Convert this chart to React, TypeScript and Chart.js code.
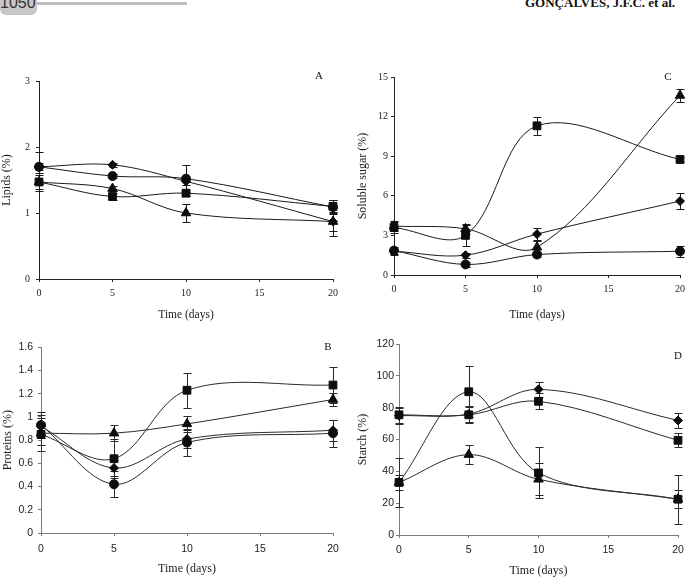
import { useEffect, useRef } from 'react';
import { Chart, registerables } from 'chart.js';

Chart.register(...registerables);

// Sampling days shared by every panel
const days = [0, 5, 10, 20];

// A – Lipids (%)
const lipidsCircle = [1.7, 1.56, 1.52, 1.09];
const lipidsCircleErr = [0.22, 0.03, 0.2, 0.1];
const lipidsSquare = [1.47, 1.25, 1.3, 1.1];
const lipidsSquareErr = [0.13, 0.05, 0.05, 0.1];
const lipidsTriangle = [1.47, 1.37, 1.0, 0.87];
const lipidsTriangleErr = [0.1, 0.04, 0.13, 0.22];
const lipidsDiamond = [1.7, 1.73, 1.48, 0.87];
const lipidsDiamondErr = [0.05, 0.03, 0.05, 0.15];

// C – Soluble sugar (%)
const sugarSquare = [3.6, 3.0, 11.3, 8.75];
const sugarSquareErr = [0.45, 0.8, 0.7, 0.2];
const sugarTriangle = [3.7, 3.5, 2.1, 13.6];
const sugarTriangleErr = [0.4, 0.4, 0.45, 0.5];
const sugarCircle = [1.85, 0.8, 1.55, 1.8];
const sugarCircleErr = [0.3, 0.2, 0.2, 0.4];
const sugarDiamond = [1.8, 1.5, 3.1, 5.6];
const sugarDiamondErr = [0.2, 0.2, 0.45, 0.6];

// B – Proteins (%)
const proteinCircle = [0.93, 0.42, 0.78, 0.86];
const proteinCircleErr = [0.11, 0.11, 0.12, 0.115];
const proteinSquare = [0.85, 0.64, 1.23, 1.275];
const proteinSquareErr = [0.14, 0.17, 0.15, 0.155];
const proteinDiamond = [0.92, 0.56, 0.81, 0.885];
const proteinDiamondErr = [0.1, 0.07, 0.08, 0.09];
const proteinTriangle = [0.86, 0.86, 0.94, 1.15];
const proteinTriangleErr = [0.1, 0.07, 0.07, 0.06];

// D – Starch (%)
const starchSquareHigh = [75.5, 75.5, 84, 59.5];
const starchSquareHighErr = [5, 5, 5, 4.5];
const starchSquareLow = [33, 90, 39, 22.5];
const starchSquareLowErr = [15.5, 16, 16, 15.5];
const starchDiamond = [75, 76, 91.5, 72];
const starchDiamondErr = [5, 5, 4.5, 4.5];
const starchTriangle = [33, 50.5, 35, 22.5];
const starchTriangleErr = [5, 6, 10, 5.5];

const SERIF = '"Liberation Serif", "Times New Roman", serif';
const SANS = '"Liberation Sans", Arial, sans-serif';

type Marker = 'circle' | 'rect' | 'triangle' | 'rectRot';
const markerRadius: Record<Marker, number> = { circle: 4.5, rect: 5.5, triangle: 5.5, rectRot: 4.5 };

type Series = { values: number[]; errors: number[]; marker: Marker };

type PanelSpec = {
  letter: string;
  letterOffset: [number, number];
  box: { left: number; top: number; width: number; height: number };
  padding: { left: number; right: number; top: number };
  yAxisWidth: number;
  xAxisHeight: number;
  yMax: number;
  yStep: number;
  yTitle: string;
  tickFont: string;
  tickSize: number;
  titleSize: number;
  xTickPad: number;
  yTickPad: number;
  ink: string;
  axisInk: string;
  series: Series[];
};

const panels: PanelSpec[] = [
  {
    letter: 'A',
    letterOffset: [-14, -5],
    box: { left: 0, top: 69, width: 348, height: 253 },
    padding: { left: 0, right: 15, top: 10 },
    yAxisWidth: 39,
    xAxisHeight: 43,
    yMax: 3,
    yStep: 1,
    yTitle: 'Lipids (%)',
    tickFont: SERIF,
    tickSize: 10,
    titleSize: 11.5,
    xTickPad: 5,
    yTickPad: 6,
    ink: '#1a1a1a',
    axisInk: '#222',
    series: [
      { values: lipidsCircle, errors: lipidsCircleErr, marker: 'circle' },
      { values: lipidsSquare, errors: lipidsSquareErr, marker: 'rect' },
      { values: lipidsTriangle, errors: lipidsTriangleErr, marker: 'triangle' },
      { values: lipidsDiamond, errors: lipidsDiamondErr, marker: 'rectRot' },
    ],
  },
  {
    letter: 'C',
    letterOffset: [-12, 0],
    box: { left: 345, top: 67, width: 345, height: 255 },
    padding: { left: 11, right: 8, top: 10 },
    yAxisWidth: 38,
    xAxisHeight: 47,
    yMax: 15,
    yStep: 3,
    yTitle: 'Soluble sugar (%)',
    tickFont: SERIF,
    tickSize: 10,
    titleSize: 11.5,
    xTickPad: 5,
    yTickPad: 3,
    ink: '#1a1a1a',
    axisInk: '#222',
    series: [
      { values: sugarSquare, errors: sugarSquareErr, marker: 'rect' },
      { values: sugarTriangle, errors: sugarTriangleErr, marker: 'triangle' },
      { values: sugarCircle, errors: sugarCircleErr, marker: 'circle' },
      { values: sugarDiamond, errors: sugarDiamondErr, marker: 'rectRot' },
    ],
  },
  {
    letter: 'B',
    letterOffset: [-5, 0],
    box: { left: 0, top: 336, width: 348, height: 240 },
    padding: { left: 1, right: 15, top: 10 },
    yAxisWidth: 40,
    xAxisHeight: 43,
    yMax: 1.6,
    yStep: 0.2,
    yTitle: 'Proteins (%)',
    tickFont: SANS,
    tickSize: 10.5,
    titleSize: 12,
    xTickPad: 7,
    yTickPad: 5,
    ink: '#2a2a2a',
    axisInk: '#7a7a7a',
    series: [
      { values: proteinCircle, errors: proteinCircleErr, marker: 'circle' },
      { values: proteinSquare, errors: proteinSquareErr, marker: 'rect' },
      { values: proteinDiamond, errors: proteinDiamondErr, marker: 'rectRot' },
      { values: proteinTriangle, errors: proteinTriangleErr, marker: 'triangle' },
    ],
  },
  {
    letter: 'D',
    letterOffset: [0, 12],
    box: { left: 345, top: 334, width: 345, height: 244 },
    padding: { left: 11, right: 12, top: 10 },
    yAxisWidth: 43,
    xAxisHeight: 43,
    yMax: 120,
    yStep: 20,
    yTitle: 'Starch (%)',
    tickFont: SANS,
    tickSize: 10.5,
    titleSize: 12,
    xTickPad: 6,
    yTickPad: 2,
    ink: '#2a2a2a',
    axisInk: '#7a7a7a',
    series: [
      { values: starchSquareHigh, errors: starchSquareHighErr, marker: 'rect' },
      { values: starchSquareLow, errors: starchSquareLowErr, marker: 'rect' },
      { values: starchDiamond, errors: starchDiamondErr, marker: 'rectRot' },
      { values: starchTriangle, errors: starchTriangleErr, marker: 'triangle' },
    ],
  },
];

// Vertical error bars with short caps, drawn beneath the markers
const errorBarPlugin = {
  id: 'errorBars',
  beforeDatasetsDraw(chart: any) {
    const { ctx } = chart;
    const xs = chart.scales.x;
    const ys = chart.scales.y;
    const cap = 4;
    chart.data.datasets.forEach((ds: any) => {
      if (!ds.errors) return;
      ctx.save();
      ctx.strokeStyle = ds.borderColor;
      ctx.lineWidth = 1;
      ds.data.forEach((p: { x: number; y: number }, i: number) => {
        const e = ds.errors[i];
        if (!e) return;
        const px = Math.round(xs.getPixelForValue(p.x)) + 0.5;
        const top = Math.round(ys.getPixelForValue(p.y + e)) + 0.5;
        const bot = Math.round(ys.getPixelForValue(p.y - e)) + 0.5;
        ctx.beginPath();
        ctx.moveTo(px, top);
        ctx.lineTo(px, bot);
        ctx.moveTo(px - cap, top);
        ctx.lineTo(px + cap, top);
        ctx.moveTo(px - cap, bot);
        ctx.lineTo(px + cap, bot);
        ctx.stroke();
      });
      ctx.restore();
    });
  },
};

// Panel letter in the upper right corner of the plot area
const panelLetterPlugin = {
  id: 'panelLetter',
  afterDraw(chart: any, _args: any, opts: any) {
    const { ctx, chartArea } = chart;
    ctx.save();
    ctx.font = `11px ${SERIF}`;
    ctx.fillStyle = '#111';
    ctx.textAlign = 'center';
    ctx.textBaseline = 'middle';
    ctx.fillText(opts.text, chartArea.right + opts.dx, chartArea.top + opts.dy);
    ctx.restore();
  },
};

// Plain number labels: 1 rather than 1.0, 0.2 rather than 0.20
const plainNumber = (v: number | string) => String(Number(Number(v).toFixed(2)));

function buildConfig(p: PanelSpec): any {
  const datasets = p.series.map((s) => ({
    data: days.map((d, i) => ({ x: d, y: s.values[i] })),
    errors: s.errors,
    borderColor: p.ink,
    borderWidth: 1,
    backgroundColor: '#0d0d0d',
    pointBackgroundColor: '#0d0d0d',
    pointBorderColor: '#0d0d0d',
    pointBorderWidth: 1,
    pointStyle: s.marker,
    pointRadius: markerRadius[s.marker],
    tension: 0.35,
    fill: false,
    clip: false,
  }));

  return {
    type: 'line',
    data: { datasets },
    plugins: [errorBarPlugin, panelLetterPlugin],
    options: {
      responsive: false,
      animation: false,
      events: [],
      devicePixelRatio: 1,
      layout: { padding: { left: p.padding.left, right: p.padding.right, top: p.padding.top, bottom: 0 } },
      plugins: {
        legend: { display: false },
        tooltip: { enabled: false },
        panelLetter: { text: p.letter, dx: p.letterOffset[0], dy: p.letterOffset[1] },
      },
      scales: {
        x: {
          type: 'linear',
          min: 0,
          max: 20,
          ticks: {
            stepSize: 5,
            padding: p.xTickPad,
            color: '#222',
            font: { family: p.tickFont, size: p.tickSize },
            callback: plainNumber,
          },
          grid: {
            display: true,
            drawOnChartArea: false,
            drawTicks: true,
            tickLength: 3,
            color: p.axisInk,
          },
          border: { display: true, color: p.axisInk, width: 1 },
          title: {
            display: true,
            text: 'Time (days)',
            color: '#222',
            padding: 0,
            font: { family: SERIF, size: p.titleSize },
          },
          afterFit: (scale: any) => {
            scale.height = p.xAxisHeight;
          },
        },
        y: {
          type: 'linear',
          min: 0,
          max: p.yMax,
          ticks: {
            stepSize: p.yStep,
            padding: p.yTickPad,
            color: '#222',
            font: { family: p.tickFont, size: p.tickSize },
            callback: plainNumber,
          },
          grid: {
            display: true,
            drawOnChartArea: false,
            drawTicks: true,
            tickLength: 3,
            color: p.axisInk,
          },
          border: { display: true, color: p.axisInk, width: 1 },
          title: {
            display: true,
            text: p.yTitle,
            color: '#222',
            padding: 0,
            font: { family: SERIF, size: 12 },
          },
          afterFit: (scale: any) => {
            scale.width = p.yAxisWidth;
          },
        },
      },
    },
  };
}

function Panel({ spec }: { spec: PanelSpec }) {
  const ref = useRef<HTMLCanvasElement>(null);
  useEffect(() => {
    const chart = new Chart(ref.current as HTMLCanvasElement, buildConfig(spec));
    return () => chart.destroy();
  }, [spec]);
  return (
    <canvas
      ref={ref}
      width={spec.box.width}
      height={spec.box.height}
      style={{
        position: 'absolute',
        left: spec.box.left,
        top: spec.box.top,
        width: spec.box.width,
        height: spec.box.height,
      }}
    />
  );
}

export default function App() {
  return (
    <div
      style={{
        position: 'absolute',
        left: 0,
        top: 0,
        width: 690,
        height: 582,
        overflow: 'hidden',
        background: '#fff',
      }}
    >
      {/* running head: page number tab and rule */}
      <div
        style={{
          position: 'absolute',
          left: 0,
          top: 0,
          width: 37,
          height: 15,
          background: '#c6c6c6',
          borderBottomRightRadius: 6,
          borderBottomLeftRadius: 6,
        }}
      />
      <div
        style={{
          position: 'absolute',
          left: 37,
          top: 2,
          width: 150,
          height: 3,
          background: '#bdbdbd',
        }}
      />
      <div
        style={{
          position: 'absolute',
          left: 0,
          top: -5,
          fontFamily: SANS,
          fontSize: 16,
          lineHeight: '16px',
          color: '#333',
          whiteSpace: 'nowrap',
        }}
      >
        1050
      </div>
      <div
        style={{
          position: 'absolute',
          left: 525,
          top: -4,
          fontFamily: SERIF,
          fontWeight: 'bold',
          fontSize: 13,
          lineHeight: '13px',
          color: '#111',
          whiteSpace: 'nowrap',
        }}
      >
        GONÇALVES, J.F.C. et al.
      </div>
      {panels.map((p) => (
        <Panel key={p.letter} spec={p} />
      ))}
    </div>
  );
}
